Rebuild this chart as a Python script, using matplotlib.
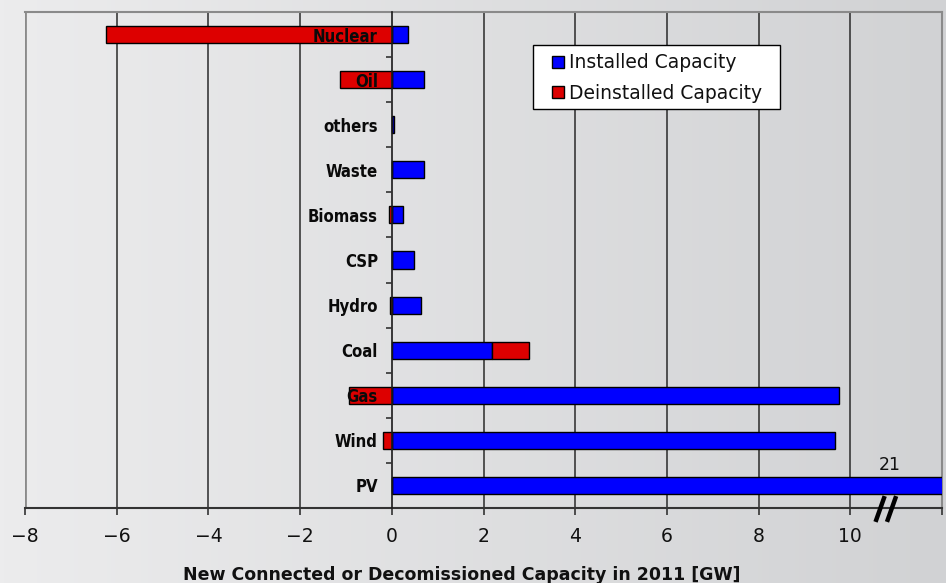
import numpy as np
import matplotlib
matplotlib.use("Agg")
import matplotlib.pyplot as plt
import matplotlib.transforms as mtransforms
from matplotlib.lines import Line2D
from matplotlib.patches import Rectangle
from matplotlib.colors import LinearSegmentedColormap

# ---- data (GW, 2011) ----
categories = ["Nuclear", "Oil", "others", "Waste", "Biomass", "CSP",
              "Hydro", "Coal", "Gas", "Wind", "PV"]
installed = [0.36, 0.71, 0.05, 0.71, 0.25, 0.48, 0.63, 2.18, 9.75, 9.66, 21.0]
deinstalled = [-6.24, -1.14, 0.0, 0.0, -0.07, 0.0, -0.04, 0.82, -0.93, -0.20, 0.0]
xticks = [-8, -6, -4, -2, 0, 2, 4, 6, 8, 10, 12]
xticklabels = ["\u22128", "\u22126", "\u22124", "\u22122", "0", "2", "4", "6", "8", "10", ""]
xlim = (-8, 12)

BLUE = "#0000ff"
RED = "#dd0000"

fig = plt.figure(figsize=(9.46, 5.83), dpi=100)

# background gradient
bg = fig.add_axes([0, 0, 1, 1], zorder=-10)
grad = np.linspace(0, 1, 256)[None, :]
cmap = LinearSegmentedColormap.from_list("bg", ["#ececed", "#d1d2d4"])
bg.imshow(grad, aspect="auto", cmap=cmap, extent=[0, 1, 0, 1])
bg.axis("off")

ax = fig.add_axes([25 / 946, (583 - 508) / 583, 917 / 946, 496 / 583])
ax.patch.set_alpha(0)

y = np.arange(len(categories))
h = 0.38
ax.barh(y, installed, height=h, color=BLUE, edgecolor="black", linewidth=1.0, zorder=3)
d = np.array(deinstalled)
left = np.where(d > 0, np.array(installed), 0.0)
ax.barh(y, d, left=left, height=h, color=RED, edgecolor="black", linewidth=1.0, zorder=3)

ax.set_xlim(*xlim)
ax.set_ylim(len(categories) - 0.5, -0.5)

# grid
for xv in xticks:
    if xv not in (xlim[0], 0, xlim[1]):
        ax.axvline(xv, color="#2a2a2a", lw=1.1, zorder=1)
ax.axvline(xlim[0], color="#8a8a8a", lw=2, zorder=1)

# spines
ax.spines["left"].set_position(("data", 0))
ax.spines["left"].set_color("#1a1a1a")
ax.spines["left"].set_linewidth(1.2)
ax.spines["left"].set_zorder(4)
ax.spines["top"].set_color("#8a8a8a")
ax.spines["top"].set_linewidth(1.5)
ax.spines["right"].set_color("#8a8a8a")
ax.spines["right"].set_linewidth(1.5)
ax.spines["bottom"].set_color("#333333")
ax.spines["bottom"].set_linewidth(1.5)

ax.set_xticks(xticks)
ax.set_xticklabels(xticklabels, fontsize=13.5, family="DejaVu Sans", color="#111111")
ax.tick_params(axis="x", direction="out", length=5, width=1.2, color="#333333", pad=9)

ax.set_yticks(y)
ax.set_yticklabels(categories)
for lab in ax.get_yticklabels():
    lab.set_family("DejaVu Sans")
    lab.set_stretch("condensed")
    lab.set_fontweight("bold")
    lab.set_fontsize(12)
    lab.set_color("#0a0a0a")
ax.set_yticks(np.arange(len(categories) - 1) + 0.5, minor=True)
ax.tick_params(axis="y", which="major", length=0, pad=10)
ax.tick_params(axis="y", which="minor", length=4, width=1.2, direction="out", color="#333333")
ax.yaxis.set_zorder(5)

# break mark and label for clipped PV bar
trans = mtransforms.blended_transform_factory(ax.transData, ax.transAxes)
for x0, x1 in [(10.55, 10.75), (10.80, 11.00)]:
    ax.plot([x0, x1], [-0.028, 0.024], color="black", lw=3.2, transform=trans,
            clip_on=False, zorder=6, solid_capstyle="butt")
pv_i = categories.index("PV")
ax.text(10.85, pv_i - 0.25, f"{installed[pv_i]:.0f}", ha="center", va="bottom",
        fontsize=12.5, family="DejaVu Sans", color="#111111", zorder=6)

# legend
handles = [Line2D([], [], ls="none", marker="s", markersize=8.4, markerfacecolor=BLUE,
                  markeredgecolor="black", markeredgewidth=1.0, label="Installed Capacity"),
           Line2D([], [], ls="none", marker="s", markersize=8.4, markerfacecolor=RED,
                  markeredgecolor="black", markeredgewidth=1.0, label="Deinstalled Capacity")]
leg = ax.legend(handles=handles, loc="upper left", bbox_to_anchor=(0.573, 0.917),
                fontsize=13.5, frameon=False, handlelength=0.8,
                handletextpad=0.2, borderpad=0.0, labelspacing=0.63,
                borderaxespad=0)
for t in leg.get_texts():
    t.set_color("#111111")
leg.set_zorder(8)
ax.add_patch(Rectangle(((533 - 25) / 917, (508 - 109) / 496), 247 / 917, 64 / 496,
                       transform=ax.transAxes, facecolor="white", edgecolor="black",
                       linewidth=1.0, zorder=7, clip_on=False))

fig.text(461.5 / 946, 1 - 579.5 / 583, "New Connected or Decomissioned Capacity in 2011 [GW]",
         ha="center", va="baseline", fontsize=12.5, fontweight="bold",
         family="DejaVu Sans", color="#111111")

fig.savefig("out.png", dpi=100)
